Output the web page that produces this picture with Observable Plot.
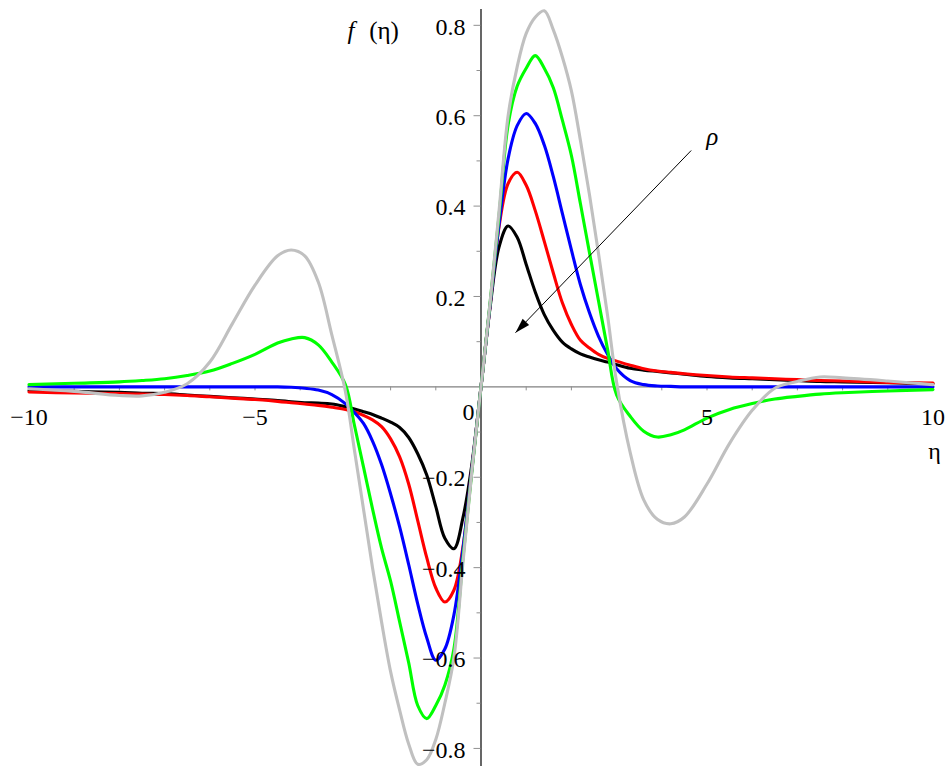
<!DOCTYPE html>
<html><head><meta charset="utf-8">
<script src="https://cdn.jsdelivr.net/npm/d3@7"></script>
<script src="https://cdn.jsdelivr.net/npm/@observablehq/plot@0.6"></script>
<style>html,body{margin:0;padding:0;background:#fff;overflow:hidden}
svg text{font-family:"Liberation Serif","DejaVu Serif","Times New Roman",serif !important}</style>
</head><body><div id="chart"></div>
<script>
// eta grid
const eta = [-10,-9,-8,-7.5,-7,-6.5,-6,-5.5,-5,-4.5,-4.2,-3.9,-3.6,-3.3,-3,-2.8,-2.6,-2.4,-2.2,-2,-1.8,-1.6,-1.4,-1.2,-1,-0.8,-0.6,-0.4,-0.2,0,
  0.2,0.4,0.6,0.8,1,1.2,1.4,1.6,1.8,2,2.2,2.4,2.6,2.8,3,3.3,3.6,3.9,4.2,4.5,5,5.5,6,6.5,7,7.5,8,9,10];

const fBlack = [-0.008,-0.010,-0.012,-0.014,-0.015,-0.018,-0.021,-0.024,-0.027,-0.030,-0.033,-0.035,-0.036,-0.038,-0.044,-0.049,-0.055,-0.061,-0.069,-0.078,-0.090,-0.112,-0.148,-0.195,-0.265,-0.335,-0.358,-0.290,-0.170,0,
  0.175,0.310,0.356,0.331,0.271,0.210,0.160,0.125,0.099,0.084,0.073,0.066,0.060,0.055,0.049,0.041,0.037,0.034,0.031,0.028,0.023,0.020,0.018,0.016,0.014,0.012,0.011,0.009,0.007];

const fRed = [-0.0115,-0.0137,-0.015,-0.016,-0.017,-0.019,-0.022,-0.025,-0.028,-0.032,-0.035,-0.038,-0.041,-0.045,-0.050,-0.055,-0.063,-0.073,-0.088,-0.115,-0.155,-0.215,-0.296,-0.378,-0.445,-0.476,-0.450,-0.355,-0.180,0,
  0.180,0.355,0.450,0.475,0.446,0.390,0.322,0.252,0.186,0.138,0.103,0.086,0.072,0.063,0.057,0.048,0.040,0.035,0.032,0.029,0.025,0.022,0.020,0.018,0.016,0.014,0.013,0.010,0.0085];

const fBlue = [0,0,0,0,0,0,0,0,0,0,-0.001,-0.003,-0.007,-0.017,-0.037,-0.057,-0.081,-0.120,-0.172,-0.237,-0.310,-0.393,-0.480,-0.555,-0.605,-0.580,-0.505,-0.360,-0.180,0,
  0.180,0.360,0.505,0.578,0.605,0.583,0.535,0.465,0.384,0.303,0.226,0.164,0.112,0.072,0.040,0.014,0.005,0.002,0.001,0,0,0,0,0,0,0,0,0,0];

const fGreen = [0.005,0.008,0.011,0.014,0.018,0.025,0.035,0.052,0.072,0.097,0.106,0.109,0.093,0.055,0.005,-0.085,-0.177,-0.270,-0.357,-0.430,-0.520,-0.610,-0.705,-0.734,-0.705,-0.660,-0.580,-0.380,-0.185,0,
  0.185,0.380,0.580,0.665,0.705,0.733,0.705,0.662,0.590,0.512,0.405,0.297,0.190,0.083,-0.018,-0.065,-0.098,-0.111,-0.106,-0.095,-0.069,-0.050,-0.037,-0.027,-0.021,-0.016,-0.013,-0.009,-0.006];

const fGray = [-0.004,-0.010,-0.019,-0.020,-0.012,0.007,0.055,0.140,0.225,0.290,0.303,0.290,0.232,0.115,-0.010,-0.140,-0.270,-0.400,-0.520,-0.630,-0.715,-0.790,-0.835,-0.825,-0.780,-0.700,-0.600,-0.390,-0.185,0,
  0.185,0.390,0.600,0.708,0.782,0.818,0.832,0.790,0.730,0.655,0.545,0.425,0.295,0.158,0.010,-0.145,-0.250,-0.293,-0.303,-0.288,-0.215,-0.125,-0.052,-0.003,0.012,0.022,0.020,0.013,0.005];

const seriesValues = [fBlack, fRed, fBlue, fGreen, fGray];
const seriesColors = ["#000000", "#ff0000", "#0000ff", "#00ff00", "#c0c0c0"];

const xTicks = [-10,-9,-8,-7,-6,-5,-4,-3,-2,-1,1,2,3,4,5,6,7,8,9,10];
const xLabelValues = [-10, -5, 5, 10];
const xLabelTexts = ["\u221210", "\u22125", "5", "10"];
const yMinorTicks = [-0.7,-0.5,-0.3,-0.1,0.1,0.3,0.5,0.7];
const yMajorTicks = [-0.8,-0.6,-0.4,-0.2,0.2,0.4,0.6,0.8];
const yLabelTexts = ["\u22120.8","\u22120.6","\u22120.4","\u22120.2","0.2","0.4","0.6","0.8"];

const arrowFrom = [4.65, 0.523];
const arrowTo = [0.763, 0.12];

// layout
const W = 952, H = 774, mL = 28.5, mR = 19.5, mT = 9, mB = 8;
const xDomain = [-10, 10], yDomain = [-0.84, 0.835];
const kx = (W - mL - mR) / (xDomain[1] - xDomain[0]);
const ky = (H - mT - mB) / (yDomain[1] - yDomain[0]);
const dxp = (arrowTo[0] - arrowFrom[0]) * kx;
const dyp = -(arrowTo[1] - arrowFrom[1]) * ky;
const headAngle = Math.atan2(dxp, -dyp) * 180 / Math.PI;

const headShape = {
  draw(ctx, l, r) {
    const w = 4.5;
    ctx.moveTo(0, -l);
    ctx.lineTo(-w, 0);
    ctx.lineTo(w, 0);
    ctx.closePath();
  }
};

const serif = "Liberation Serif, DejaVu Serif, serif";

const lineMarks = seriesValues.map((vals, k) =>
  Plot.line(eta.map((x, i) => ({x, y: vals[i]})), {
    x: "x", y: "y", stroke: seriesColors[k], strokeWidth: 3.1, curve: "catmull-rom"
  })
);

const T = {fill: "black", fontFamily: serif, lineAnchor: "middle"};

const chart = Plot.plot({
  width: W, height: H,
  marginLeft: mL, marginRight: mR, marginTop: mT, marginBottom: mB,
  x: {domain: xDomain, axis: null},
  y: {domain: yDomain, axis: null},
  style: {background: "white", fontFamily: serif, fontSize: "23px", color: "black"},
  marks: [
    Plot.ruleY([0], {stroke: "#808080", strokeWidth: 1.2}),
    Plot.ruleX([0], {stroke: "#000000", strokeWidth: 1.2}),
    Plot.ruleX(xTicks, {x: d => d, y1: 0, y2: 0, insetBottom: -4, stroke: "#909090", strokeWidth: 1}),
    Plot.ruleY(yMajorTicks, {y: d => d, x1: 0, x2: 0, insetLeft: -7, stroke: "#909090", strokeWidth: 1}),
    Plot.ruleY(yMinorTicks, {y: d => d, x1: 0, x2: 0, insetLeft: -4, stroke: "#909090", strokeWidth: 1}),
    ...lineMarks,
    Plot.text(xLabelValues, {...T, x: d => d, y: 0, text: (d, i) => xLabelTexts[i], dy: 30, textAnchor: "middle", fontSize: 24}),
    Plot.text(yMajorTicks, {...T, x: 0, y: d => d, text: (d, i) => yLabelTexts[i], dx: -15.5, dy: 1.5, textAnchor: "end", fontSize: 24}),
    Plot.text(["0"], {...T, x: 0, y: 0, text: d => d, dx: -12.5, dy: 25, textAnchor: "middle", fontSize: 24}),
    Plot.text(["\u03B7"], {...T, x: xDomain[1], y: 0, text: d => d, dx: 1.5, dy: 64, textAnchor: "middle", fontSize: 24}),
    Plot.text(["f"], {...T, x: 0, y: 0.8, text: d => d, dx: -130, dy: 6, textAnchor: "middle", fontSize: 25, fontStyle: "italic"}),
    Plot.text(["(\u03B7)"], {...T, x: 0, y: 0.8, text: d => d, dx: -97, dy: 6, textAnchor: "middle", fontSize: 25}),
    Plot.link([0], {x1: arrowFrom[0], y1: arrowFrom[1], x2: arrowTo[0], y2: arrowTo[1], stroke: "black", strokeWidth: 1}),
    Plot.vector([0], {x: arrowTo[0], y: arrowTo[1], length: 15, rotate: headAngle, anchor: "end", shape: headShape, fill: "black", stroke: "none"}),
    Plot.text(["\u03C1"], {...T, x: arrowFrom[0], y: arrowFrom[1], text: d => d, dx: 21, dy: -14, textAnchor: "middle", fontSize: 25, fontStyle: "italic"})
  ]
});
document.getElementById("chart").appendChild(chart);
</script>
</body></html>
